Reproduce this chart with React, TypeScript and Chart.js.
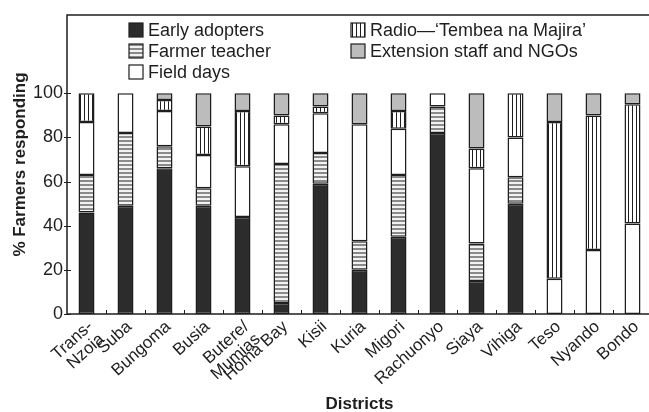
import React, { useEffect, useRef } from 'react';
import { Chart, registerables } from 'chart.js';

Chart.register(...registerables);

const districts: (string | string[])[] = [
  ['Trans-', 'Nzoia'], 'Suba', 'Bungoma', 'Busia', ['Butere/', 'Mumias'], 'Homa Bay', 'Kisii',
  'Kuria', 'Migori', 'Rachuonyo', 'Siaya', 'Vihiga', 'Teso', 'Nyando', 'Bondo',
];
const earlyAdopters = [46, 49, 66, 49, 44, 5, 59, 20, 35, 82, 15, 50, 0, 0, 0];
const farmerTeacher = [17, 33, 10, 8, 0, 63, 14, 13, 28, 12, 17, 12, 0, 0, 0];
const fieldDays = [24, 18, 16, 15, 23, 18, 18, 53, 21, 6, 34, 18, 16, 29, 41];
const radio = [13, 0, 5, 13, 25, 4, 3, 0, 8, 0, 9, 20, 71, 61, 54];
const extension = [0, 0, 3, 15, 8, 10, 6, 14, 8, 0, 25, 0, 13, 10, 5];
const yTicks = [0, 20, 40, 60, 80, 100];
const seriesNames = [
  'Early adopters',
  'Farmer teacher',
  'Field days',
  'Radio\u2014\u2018Tembea na Majira\u2019',
  'Extension staff and NGOs',
];
const xTitle = 'Districts';
const yTitle = '% Farmers responding';

const FONT = '"Liberation Sans", Arial, Helvetica, sans-serif';
const INK = '#1e1e1e';

function makePattern(kind: 'h' | 'v'): CanvasPattern | string {
  const c = document.createElement('canvas');
  c.width = 4;
  c.height = 4;
  const g = c.getContext('2d');
  if (!g) return '#999';
  if (kind === 'h') {
    g.fillStyle = '#f2f2f2';
    g.fillRect(0, 0, 4, 4);
    g.fillStyle = '#8a8a8a';
    g.fillRect(0, 0, 4, 2);
  } else {
    g.fillStyle = '#ffffff';
    g.fillRect(0, 0, 4, 4);
    g.fillStyle = '#1e1e1e';
    g.fillRect(0, 0, 1, 4);
  }
  const p = g.createPattern(c, 'repeat');
  return p || '#999';
}

const framePlugin = {
  id: 'frameAndTicks',
  afterDraw(chart: any) {
    const { ctx, chartArea } = chart;
    const { left, right, top, bottom } = chartArea;
    ctx.save();
    ctx.strokeStyle = INK;
    ctx.lineWidth = 1.5;
    ctx.strokeRect(left, top, right - left, bottom - top);
    ctx.lineWidth = 1;
    const ys = chart.scales.y;
    yTicks.forEach((v) => {
      const py = Math.round(ys.getPixelForValue(v)) + 0.5;
      ctx.beginPath();
      ctx.moveTo(left - 3, py);
      ctx.lineTo(left + 4, py);
      ctx.stroke();
    });
    const xs = chart.scales.x;
    for (let i = 1; i < districts.length; i++) {
      const px = Math.round((xs.getPixelForValue(i - 1) + xs.getPixelForValue(i)) / 2) + 0.5;
      ctx.beginPath();
      ctx.moveTo(px, bottom);
      ctx.lineTo(px, bottom - 4);
      ctx.stroke();
    }
    ctx.restore();
  },
};

const legendPlugin = {
  id: 'insideLegend',
  afterDraw(chart: any) {
    const { ctx, chartArea } = chart;
    const cols = [chartArea.left + 62, chartArea.left + 284];
    const rows = [chartArea.top + 15, chartArea.top + 36, chartArea.top + 57];
    const slots = [[0, 0], [0, 1], [0, 2], [1, 0], [1, 1]];
    ctx.save();
    ctx.font = `18px ${FONT}`;
    ctx.textBaseline = 'middle';
    ctx.textAlign = 'left';
    chart.data.datasets.forEach((ds: any, i: number) => {
      const [c, r] = slots[i];
      const x = cols[c];
      const y = rows[r];
      ctx.fillStyle = ds.backgroundColor;
      ctx.fillRect(x, y - 7, 14, 14);
      ctx.strokeStyle = INK;
      ctx.lineWidth = 1.2;
      ctx.strokeRect(x, y - 7, 14, 14);
      ctx.fillStyle = INK;
      ctx.fillText(ds.label, x + 19, y + 1);
    });
    ctx.restore();
  },
};

export default function App() {
  const ref = useRef<HTMLCanvasElement | null>(null);

  useEffect(() => {
    document.body.style.margin = '0';
    const canvas = ref.current;
    if (!canvas) return;
    const fills = ['#2c2c2c', makePattern('h'), '#ffffff', makePattern('v'), '#bcbcbc'];
    const values = [earlyAdopters, farmerTeacher, fieldDays, radio, extension];
    const chart = new Chart(canvas, {
      type: 'bar',
      data: {
        labels: districts,
        datasets: values.map((d, i) => ({
          label: seriesNames[i],
          data: d,
          backgroundColor: fills[i] as any,
          borderColor: INK,
          borderWidth: 1.5,
          borderSkipped: false,
          barPercentage: 0.41,
          categoryPercentage: 1,
        })),
      },
      options: {
        responsive: false,
        animation: false,
        events: [],
        layout: { padding: { top: 15, right: 4, left: 0, bottom: 0 } },
        plugins: { legend: { display: false }, tooltip: { enabled: false } },
        scales: {
          x: {
            stacked: true,
            grid: { display: false, drawTicks: false },
            border: { display: false },
            ticks: {
              autoSkip: false,
              maxRotation: 42,
              minRotation: 42,
              padding: 4,
              labelOffset: 4,
              color: INK,
              font: { family: FONT, size: 17, lineHeight: 1.0 },
            },
            title: {
              display: true,
              text: xTitle,
              color: INK,
              font: { family: FONT, size: 17, weight: 'bold', lineHeight: 0.85 },
              padding: { top: 0, bottom: 0 },
            },
            afterFit: (s: any) => {
              s.height = 98;
            },
          },
          y: {
            stacked: true,
            min: 0,
            max: 135.5,
            grid: { display: false, drawTicks: false },
            border: { display: false },
            afterBuildTicks: (s: any) => {
              s.ticks = yTicks.map((v) => ({ value: v }));
            },
            ticks: {
              padding: 4,
              color: INK,
              font: { family: FONT, size: 18 },
            },
            title: {
              display: true,
              text: yTitle,
              color: INK,
              font: { family: FONT, size: 17, weight: 'bold' },
              padding: { top: 10, bottom: 0 },
            },
            afterFit: (s: any) => {
              s.width = 67;
            },
          },
        },
      },
      plugins: [framePlugin, legendPlugin],
    });
    return () => chart.destroy();
  }, []);

  return (
    <div style={{ width: 649, height: 412, overflow: 'hidden', background: '#fff' }}>
      <canvas ref={ref} width={656} height={412} style={{ display: 'block' }} />
    </div>
  );
}
